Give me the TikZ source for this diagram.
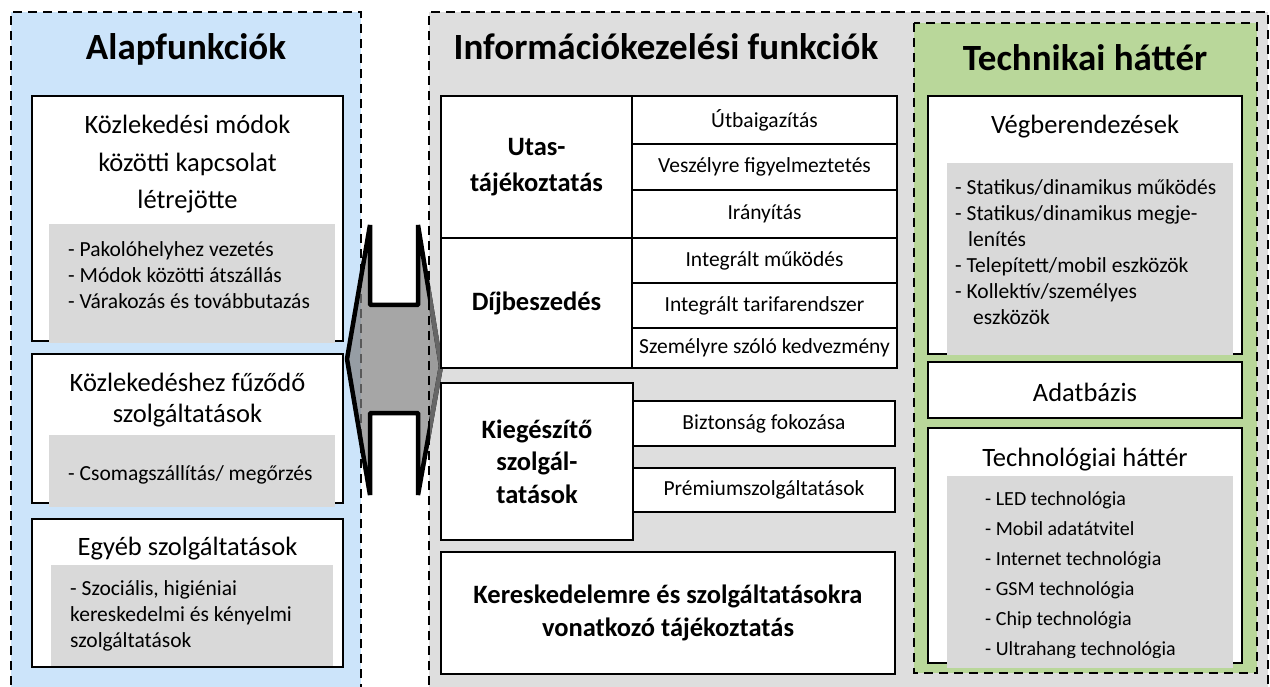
\documentclass[tikz,border=0pt]{standalone}
\usepackage{fontspec}
\setmainfont{Carlito}
\definecolor{panelblue}{HTML}{CCE4FA}
\definecolor{panelgray}{HTML}{DEDEDE}
\definecolor{panelgreen}{HTML}{B9D79A}
\definecolor{itemgray}{HTML}{D9D9D9}
\begin{document}
\begin{tikzpicture}[x=1pt,y=-1pt,
  panelline/.style={line width=2pt, dash pattern=on 9pt off 6pt},
  box/.style={draw=black, line width=1.5pt, fill=white, inner sep=0pt, rectangle},
  grayitem/.style={fill=itemgray, inner sep=0pt, rectangle},
  ttl/.style={font=\fontsize{37}{44}\selectfont\bfseries, inner sep=0pt},
  head/.style={font=\fontsize{26.5}{37.5}\selectfont, inner sep=0pt, align=center},
  bhead/.style={font=\fontsize{26.5}{33}\selectfont\bfseries, inner sep=0pt, align=center},
  cell/.style={box, font=\fontsize{21.5}{26}\selectfont, minimum width=265pt},
  items/.style={font=\fontsize{21.5}{26}\selectfont, inner sep=0pt, align=left, anchor=west},
  bigarrow/.style={line width=4.5pt, line join=bevel}
]
\clip (0,0) rectangle (1270,687);
% panels
\fill[panelblue] (11,12) rectangle (361,700);
\draw[panelline] (11,700) -- (11,12) -- (361,12) -- (361,700);
\fill[panelgray] (429,12) rectangle (1268,700);
% double arrow
\draw[bigarrow, fill=black!50, fill opacity=0.7]
  (347,359) -- (370,225) -- (370,305) -- (418,305) -- (418,225) -- (441,366)
  -- (418,495) -- (418,413) -- (370,413) -- (370,495) -- cycle;
\begin{scope}
  \clip (430,200) rectangle (450,520);
  \draw[bigarrow, draw=black!60]
    (418,225) -- (441,366) -- (418,495);
\end{scope}
\draw[panelline] (429,700) -- (429,12) -- (1268,12) -- (1268,700);
\fill[panelgreen] (914,23) rectangle (1257,673);
\draw[panelline] (914,23) rectangle (1257,673);

% titles
\node[ttl] (t1) at (186,49) {Alapfunkciók};
\node[ttl] (t2) at (666,47) {Információkezelési funkciók};
\node[ttl] (t3) at (1085,58) {Technikai háttér};

% left column
\node[box, minimum width=311pt, minimum height=245pt] (b1) at (187.5,218.5) {};
\node[head] (b1t) at (187.5,164.5) {Közlekedési módok\\közötti kapcsolat\\létrejötte};
\node[grayitem, minimum width=286pt, minimum height=119pt] (g1) at (192,283.5) {};
\node[items] (g1t) at (68,275) {- Pakolóhelyhez vezetés\\- Módok közötti átszállás\\- Várakozás és továbbutazás};

\node[box, minimum width=311pt, minimum height=149pt] (b2) at (187.5,428.5) {};
\node[head, font=\fontsize{26.5}{31}\selectfont] (b2t) at (187.5,400) {Közlekedéshez fűződő\\szolgáltatások};
\node[grayitem, minimum width=286pt, minimum height=72pt] (g2) at (192,471) {};
\node[items] (g2t) at (68,475) {- Csomagszállítás/ megőrzés};

\node[box, minimum width=311pt, minimum height=148pt] (b3) at (187.5,593) {};
\node[head] (b3t) at (187.5,549) {Egyéb szolgáltatások};
\node[grayitem, minimum width=282pt, minimum height=101pt] (g3) at (192,615.5) {};
\node[items] (g3t) at (70,616) {- Szociális, higiéniai\\kereskedelmi és kényelmi\\szolgáltatások};

% middle column
\node[box, minimum width=191pt, minimum height=142pt, bhead, font=\fontsize{26.5}{36}\selectfont\bfseries] (utas) at (536.5,167) {Utas-\\tájékoztatás};
\node[cell, minimum height=48pt] (u1) at (764.5,120) {Útbaigazítás};
\node[cell, minimum height=46pt] (u2) at (764.5,167) {Veszélyre figyelmeztetés};
\node[cell, minimum height=48pt] (u3) at (764.5,214) {Irányítás};
\node[box, minimum width=191pt, minimum height=130pt, bhead] (dij) at (536.5,303) {Díjbeszedés};
\node[cell, minimum height=45pt] (d1) at (764.5,260.5) {Integrált működés};
\node[cell, minimum height=45pt] (d2) at (764.5,305.5) {Integrált tarifarendszer};
\node[cell, minimum height=40pt] (d3) at (764.5,348) {Személyre szóló kedvezmény};
\node[box, minimum width=192pt, minimum height=157pt, bhead, font=\fontsize{26.5}{32.5}\selectfont\bfseries] (kieg) at (537,461.5) {Kiegészítő\\szolgál-\\tatások};
\node[cell, minimum width=262pt, minimum height=45pt] (bizt) at (764,423.5) {Biztonság fokozása};
\node[cell, minimum width=262pt, minimum height=44pt] (prem) at (764,490) {Prémiumszolgáltatások};
\node[box, minimum width=454pt, minimum height=122pt, bhead] (ker) at (668,613) {Kereskedelemre és szolgáltatásokra\\vonatkozó tájékoztatás};

% right column
\node[box, minimum width=314pt, minimum height=258pt] (veg) at (1085,225) {};
\node[head] (vegt) at (1085,127) {Végberendezések};
\node[grayitem, minimum width=286pt, minimum height=192pt] (vegg) at (1090,259) {};
\node[items] (vegi) at (955,252) {- Statikus/dinamikus működés\\- Statikus/dinamikus megje-\\\hspace*{13pt}lenítés\\- Telepített/mobil eszközök\\- Kollektív/személyes\\\hspace*{18pt}eszközök};

\node[box, minimum width=314pt, minimum height=56pt] (ada) at (1085,390) {};
\node[head] (adat) at (1085,392) {Adatbázis};

\node[box, minimum width=314pt, minimum height=235pt] (tech) at (1085,545.5) {};
\node[head] (techt) at (1085,460) {Technológiai háttér};
\node[grayitem, minimum width=286pt, minimum height=192pt] (techg) at (1090,572) {};
\begin{scope}
  \clip (947,476) rectangle (1233,657);
  \node[items, font=\fontsize{20}{30}\selectfont] (techi) at (985,575) {- LED technológia\\- Mobil adatátvitel\\- Internet technológia\\- GSM technológia\\- Chip technológia\\- Ultrahang technológia};
\end{scope}
\end{tikzpicture}
\end{document}
